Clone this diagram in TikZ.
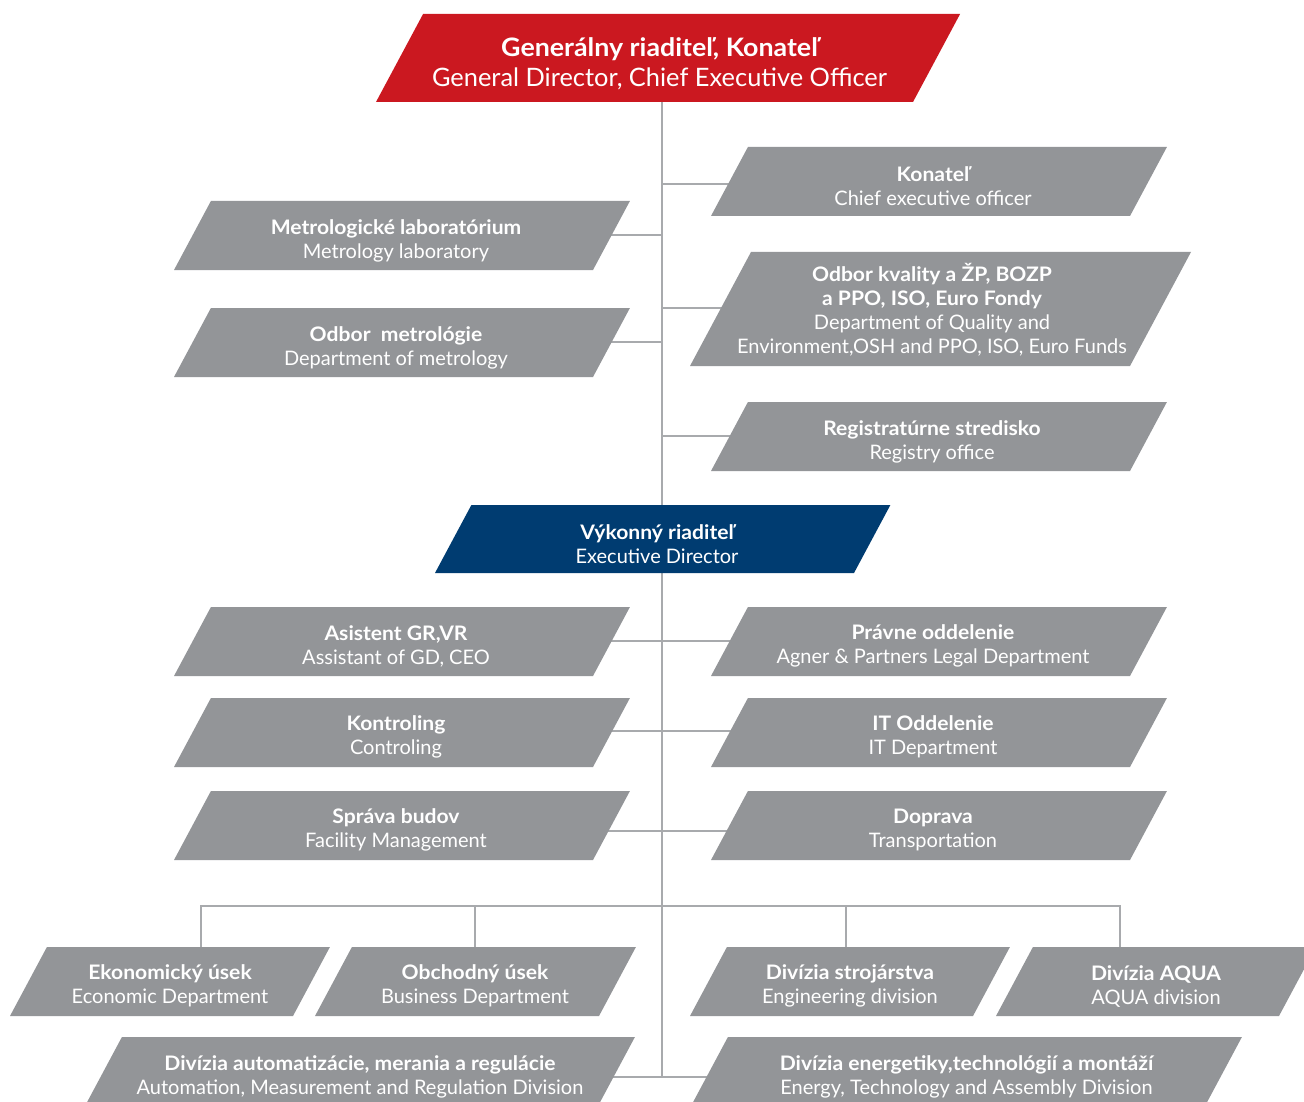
\documentclass[tikz,border=0pt]{standalone}
\usepackage{fontspec}
\setmainfont{Lato}[BoldFeatures={FakeStretch=1.055}]
\usetikzlibrary{calc}
\definecolor{boxgray}{RGB}{147,149,152}
\definecolor{boxred}{RGB}{203,24,32}
\definecolor{boxblue}{RGB}{0,60,113}
\definecolor{linegray}{RGB}{168,170,173}
\pgfdeclarelayer{paper}
\pgfdeclarelayer{bg}
\pgfdeclarelayer{boxes}
\pgfsetlayers{paper,bg,boxes,main}
% parallelogram fill: #1 colour, #2 bottom-left x, #3 top y, #4 width, #5 height
\newcommand\pfill[5]{%
  \begin{pgfonlayer}{boxes}
    \begin{scope}
      \clip (0,0) rectangle (1304,1102);
      \fill[#1] ({#2},{#3+#5}) -- ({#2+#4},{#3+#5}) -- ({#2+#4+0.535*#5},{#3}) -- ({#2+0.535*#5},{#3}) -- cycle;
    \end{scope}
  \end{pgfonlayer}}
% #1 name, #2 colour, #3 bottom-left x, #4 top y, #5 width, #6 height, #7 text x, #8 text y, #9 text
\newcommand\pbox[9]{%
  \pfill{#2}{#3}{#4}{#5}{#6}%
  \node[txt] (#1) at (#7,#8) {#9};}
\begin{document}
\begin{tikzpicture}[x=1pt,y=-1pt,
  txt/.style={text=white,align=center,inner sep=0pt,yshift=-1.2pt,font=\fontsize{20}{24}\selectfont},
  bigtxt/.style={txt,font=\fontsize{25.4}{30}\selectfont},
  conn/.style={draw=linegray,line width=1.4pt}]
\begin{pgfonlayer}{paper}
\fill[white] (0,0) rectangle (1304,1102);
\end{pgfonlayer}
\useasboundingbox (0,0) rectangle (1304,1102);

% top
\pfill{boxred}{376}{14}{537}{88}
\node[bigtxt] (gd) at (659.5,62.5) {\bfseries Generálny riaditeľ, Konateľ\\General Director, Chief Executive Officer};
\pbox{kon}{boxgray}{711}{147}{419}{69}{933}{185}{\bfseries Konateľ\\Chief executive officer}
\pbox{metlab}{boxgray}{174}{201}{419}{69}{396}{240}{\bfseries Metrologické laboratórium\\Metrology laboratory}
\pbox{kval}{boxgray}{690}{252}{440}{114}{932}{309}{\bfseries Odbor kvality a ŽP, BOZP\\\bfseries a PPO, ISO, Euro Fondy\\Department of Quality and\\Environment,OSH and PPO, ISO, Euro Funds}
\pbox{odbmet}{boxgray}{174}{308}{419}{69}{396}{346.5}{\bfseries Odbor~~metrológie\\Department of metrology}
\pbox{reg}{boxgray}{711}{402}{419}{69}{932}{441}{\bfseries Registratúrne stredisko\\Registry office}

% executive director
\pbox{ved}{boxblue}{435}{505}{419}{68}{657}{543}{\bfseries Výkonný riaditeľ\\Executive Director}

\pbox{asist}{boxgray}{174}{607}{419}{69}{396}{645}{\bfseries Asistent GR,VR\\Assistant of GD, CEO}
\pbox{pravne}{boxgray}{711}{607}{419}{69}{933}{645}{\bfseries Právne oddelenie\\Agner \& Partners Legal Department}
\pbox{kontr}{boxgray}{174}{698}{419}{69}{396}{736}{\bfseries Kontroling\\Controling}
\pbox{it}{boxgray}{711}{698}{419}{69}{933}{736}{\bfseries IT Oddelenie\\IT Department}
\pbox{sprava}{boxgray}{174}{791}{419}{69}{396}{829}{\bfseries Správa budov\\Facility Management}
\pbox{doprava}{boxgray}{711}{791}{419}{69}{933}{829}{\bfseries Doprava\\Transportation}

% bottom rows
\pbox{ekon}{boxgray}{10}{947}{283}{69}{170}{985}{\bfseries Ekonomický úsek\\Economic Department}
\pbox{obch}{boxgray}{315}{947}{284}{69}{475}{985}{\bfseries Obchodný úsek\\Business Department}
\pbox{stroj}{boxgray}{690}{947}{283}{69}{850}{985}{\bfseries Divízia strojárstva\\Engineering division}
\pbox{aqua}{boxgray}{996}{947}{283}{69}{1156}{985}{\bfseries Divízia AQUA\\AQUA division}
\pbox{autom}{boxgray}{85}{1037}{513}{69}{360}{1076}{\bfseries Divízia automatizácie, merania a regulácie\\Automation, Measurement and Regulation Division}
\pbox{energ}{boxgray}{691}{1037}{514}{69}{966.5}{1076}{\bfseries Divízia energetiky,technológií a montáží\\Energy, Technology and Assembly Division}

% connector coordinates on the spine
\coordinate (bot) at (662,1077);
\coordinate (h1) at (662,184);
\coordinate (h2) at (662,235);
\coordinate (h3) at (662,308);
\coordinate (h4) at (662,342);
\coordinate (h5) at (662,436);
\coordinate (h6) at (662,641);
\coordinate (h7) at (662,731);
\coordinate (h8) at (662,831);
\coordinate (bus) at (662,906);
\coordinate (d1) at ([xshift=31pt]ekon.center);
\coordinate (d2) at (obch.center);
\coordinate (d3) at ([xshift=-4pt]stroj.center);
\coordinate (d4) at ([xshift=-36pt]aqua.center);

\begin{pgfonlayer}{bg}
  \draw[conn] (gd.center -| bot) -- (bot);
  \draw[conn] (h1) -- (h1 -| kon);
  \draw[conn] (h2) -- (h2 -| metlab);
  \draw[conn] (h3) -- (h3 -| kval);
  \draw[conn] (h4) -- (h4 -| odbmet);
  \draw[conn] (h5) -- (h5 -| reg);
  \draw[conn] (h6 -| asist) -- (h6 -| pravne);
  \draw[conn] (h7 -| kontr) -- (h7 -| it);
  \draw[conn] (h8 -| sprava) -- (h8 -| doprava);
  \draw[conn] (d1) -- (d1 |- bus) -- (d4 |- bus) -- (d4);
  \draw[conn] (d2) -- (d2 |- bus);
  \draw[conn] (d3) -- (d3 |- bus);
  \draw[conn] (bot -| autom) -- (bot -| energ);
\end{pgfonlayer}
\end{tikzpicture}
\end{document}
